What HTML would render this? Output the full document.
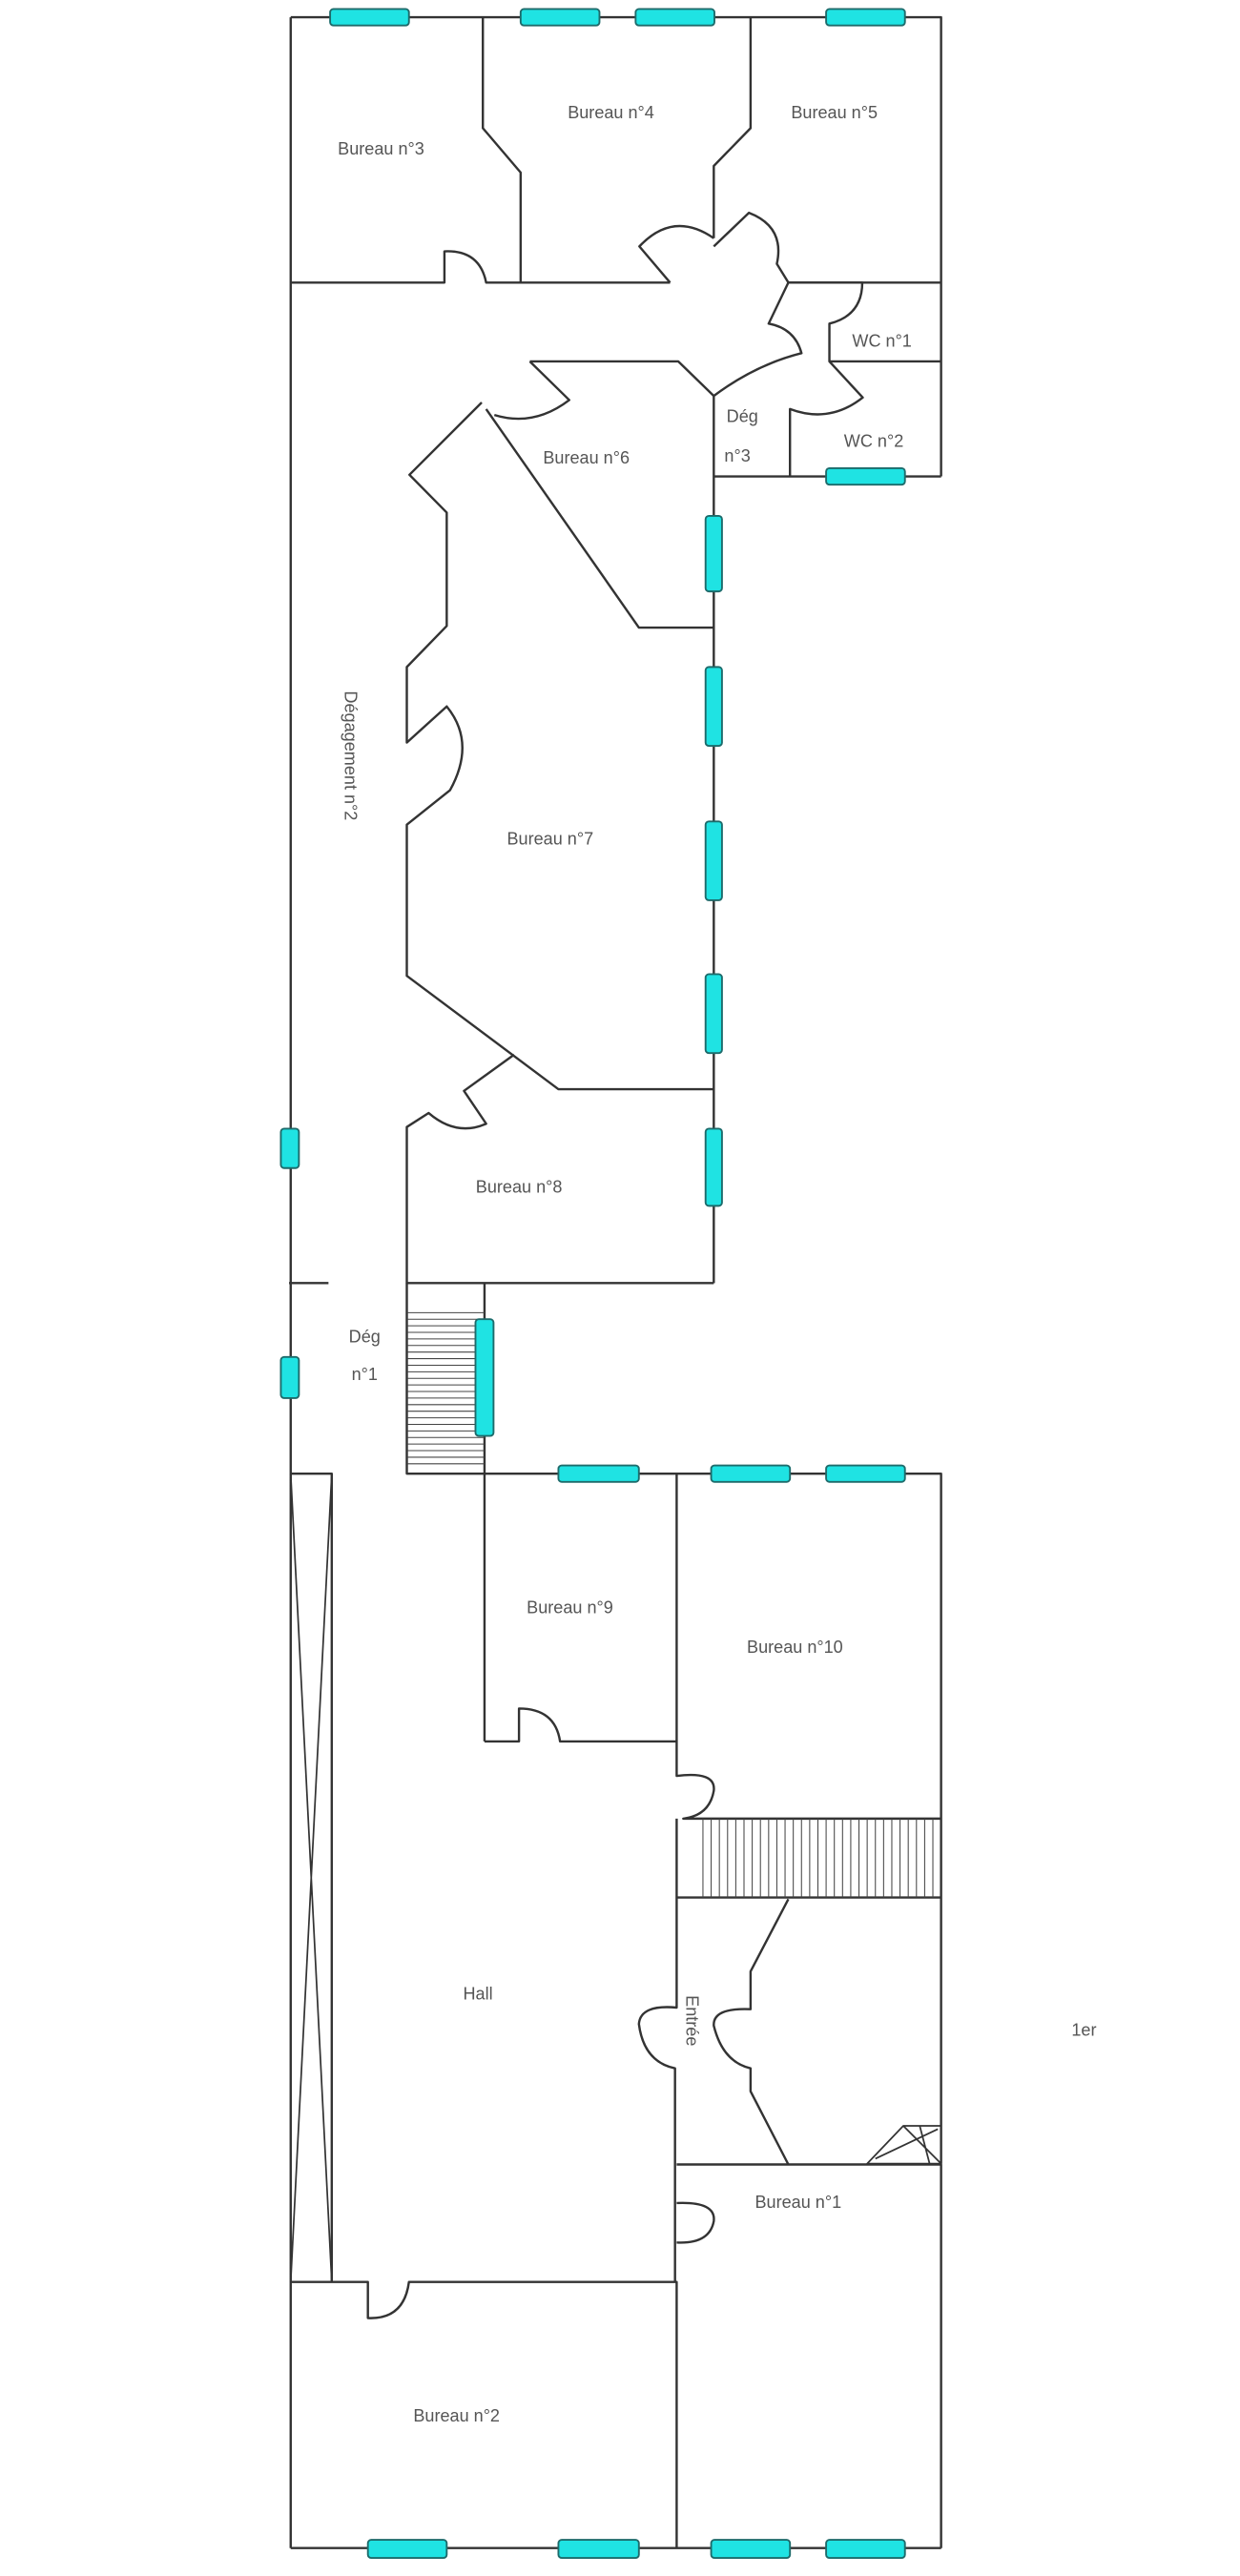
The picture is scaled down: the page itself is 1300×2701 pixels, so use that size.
<!DOCTYPE html>
<html><head><meta charset="utf-8"><style>
html,body{margin:0;padding:0;background:#fff;}
svg{display:block;}
text{font-family:"Liberation Sans",sans-serif;fill:#555;font-size:10.5px;}
</style></head><body>
<svg width="1300" height="2701" viewBox="0 0 755 1568" preserveAspectRatio="none" xmlns="http://www.w3.org/2000/svg">
<g fill="none" stroke="#333" stroke-width="1.4" stroke-linejoin="round">
<!-- outer top -->
<path d="M177 10.5 H573 V290"/>
<path d="M177 10.5 V1551"/>
<!-- top room walls -->
<path d="M294 10.5 V78 L317 105 V172"/>
<path d="M457 10.5 V78 L434.6 101 V145"/>
<path d="M177 172 H270.6 V153 Q292 152 296 172 H408"/>
<path d="M408 172 L389.3 150 Q410 128 434.6 145"/>
<path d="M434.6 150 L456 129.5 Q478 138 473 160.6 L480 172 H573"/>
<path d="M480 172 L468 197 Q484 200 488 215 Q460 222 434.6 241"/>
<path d="M480 172 H525 Q525 192 505 197 V220 H573"/>
<path d="M505 220 L525.3 242 Q505 258 481 249 V290"/>
<path d="M434.6 290 H573"/>
<!-- Bureau 6 -->
<path d="M322.6 220 H413 L434.6 241"/>
<path d="M322.6 220 L346.6 243.5 Q325 260 301 252.6"/>
<path d="M296 249 L389 382 H434.6"/>
<!-- Bureau 7 outline -->
<path d="M293.3 245 L249.3 289 L272 312 V381 L247.7 406 V452 L272 430 Q290 452 274 481 L247.7 502 V594 L340 663 H434.6"/>
<!-- Bureau 8 -->
<path d="M313 642 L282.5 664 L296 684 Q278 692 261 677.5 L247.7 686 V781 H434.6"/>
<path d="M434.6 241 V781"/>
<path d="M176 781 H200"/>
<!-- Deg 1 stairs -->
<path d="M247.7 781 V897 H573 V1317"/>
<path d="M295 781 V1060"/>
<!-- shaft -->
<path d="M177 897 H202 V1389"/>
<path d="M177 897 L202 1389 M202 897 L177 1389" stroke-width="1"/>
<!-- Bureau 9 -->
<path d="M295 1060 H316 V1040 Q338 1040 341 1060 H412 V897"/>
<path d="M412 1060 V1081 Q436 1078 434.6 1090 Q432 1105 416 1107 H573"/>
<path d="M412 1107 V1222 Q390 1220 389 1232 Q392 1255 411 1259 V1389"/>
<path d="M412 1155 H573"/>
<path d="M480 1156 L457 1200 V1223 Q434 1222 434.6 1233 Q440 1255 457 1259 V1273 L480 1317.5"/>
<path d="M412 1317.5 H573 V1551"/>
<path d="M412 1341 Q436 1340 434.6 1352 Q432 1366 412 1365"/>
<path d="M177 1389 H224 V1411 Q246 1412 249 1389 H412 V1551"/>
<path d="M177 1551 H573"/>
<!-- elevator icon -->
<path d="M528 1317 L550 1294 H573 V1317 Z M550 1294 L573 1317 M533 1314 L571 1296 M560 1294 L566 1317" stroke-width="1"/>
</g>
<!-- stair lines -->
<g stroke="#444" stroke-width="0.6">
<path d="M248 799H295M248 803H295M248 807H295M248 811H295M248 815H295M248 819H295M248 823H295M248 827H295M248 831H295M248 835H295M248 839H295M248 843H295M248 847H295M248 851H295M248 855H295M248 859H295M248 863H295M248 867H295M248 871H295M248 875H295M248 879H295M248 883H295M248 887H295M248 891H295"/>
<path d="M428 1107V1155M433 1107V1155M438 1107V1155M443 1107V1155M448 1107V1155M453 1107V1155M458 1107V1155M463 1107V1155M468 1107V1155M473 1107V1155M478 1107V1155M483 1107V1155M488 1107V1155M493 1107V1155M498 1107V1155M503 1107V1155M508 1107V1155M513 1107V1155M518 1107V1155M523 1107V1155M528 1107V1155M533 1107V1155M538 1107V1155M543 1107V1155M548 1107V1155M553 1107V1155M558 1107V1155M563 1107V1155M568 1107V1155"/>
</g>
<!-- windows -->
<g fill="#1fe3e3" stroke="#1d6b6b" stroke-width="1.1">
<rect x="201" y="5.5" width="48" height="10" rx="2"/>
<rect x="317" y="5.5" width="48" height="10" rx="2"/>
<rect x="387" y="5.5" width="48" height="10" rx="2"/>
<rect x="503" y="5.5" width="48" height="10" rx="2"/>
<rect x="503" y="285" width="48" height="10" rx="2"/>
<rect x="429.6" y="314" width="10" height="46" rx="2"/>
<rect x="429.6" y="406" width="10" height="48" rx="2"/>
<rect x="429.6" y="500" width="10" height="48" rx="2"/>
<rect x="429.6" y="593" width="10" height="48" rx="2"/>
<rect x="429.6" y="687" width="10" height="47" rx="2"/>
<rect x="171" y="687" width="11" height="24" rx="2"/>
<rect x="171" y="826" width="11" height="25" rx="2"/>
<rect x="289.5" y="803" width="11" height="71" rx="2"/>
<rect x="340" y="892" width="49" height="10" rx="2"/>
<rect x="433" y="892" width="48" height="10" rx="2"/>
<rect x="503" y="892" width="48" height="10" rx="2"/>
<rect x="224" y="1546" width="48" height="11" rx="2"/>
<rect x="340" y="1546" width="49" height="11" rx="2"/>
<rect x="433" y="1546" width="48" height="11" rx="2"/>
<rect x="503" y="1546" width="48" height="11" rx="2"/>
</g>
<!-- labels -->
<g text-anchor="middle">
<text x="232" y="94">Bureau n°3</text>
<text x="372" y="72">Bureau n°4</text>
<text x="508" y="72">Bureau n°5</text>
<text x="537" y="211">WC n°1</text>
<text x="532" y="272">WC n°2</text>
<text x="452" y="257">Dég</text>
<text x="449" y="281">n°3</text>
<text x="357" y="282">Bureau n°6</text>
<text x="335" y="514">Bureau n°7</text>
<text x="316" y="726">Bureau n°8</text>
<text x="222" y="817">Dég</text>
<text x="222" y="840">n°1</text>
<text x="347" y="982">Bureau n°9</text>
<text x="484" y="1006">Bureau n°10</text>
<text x="291" y="1217">Hall</text>
<text x="660" y="1239">1er</text>
<text x="486" y="1344">Bureau n°1</text>
<text x="278" y="1474">Bureau n°2</text>
<text transform="translate(210,460) rotate(90)">Dégagement n°2</text>
<text transform="translate(418,1230) rotate(90)">Entrée</text>
</g>
</svg>
</body></html>
